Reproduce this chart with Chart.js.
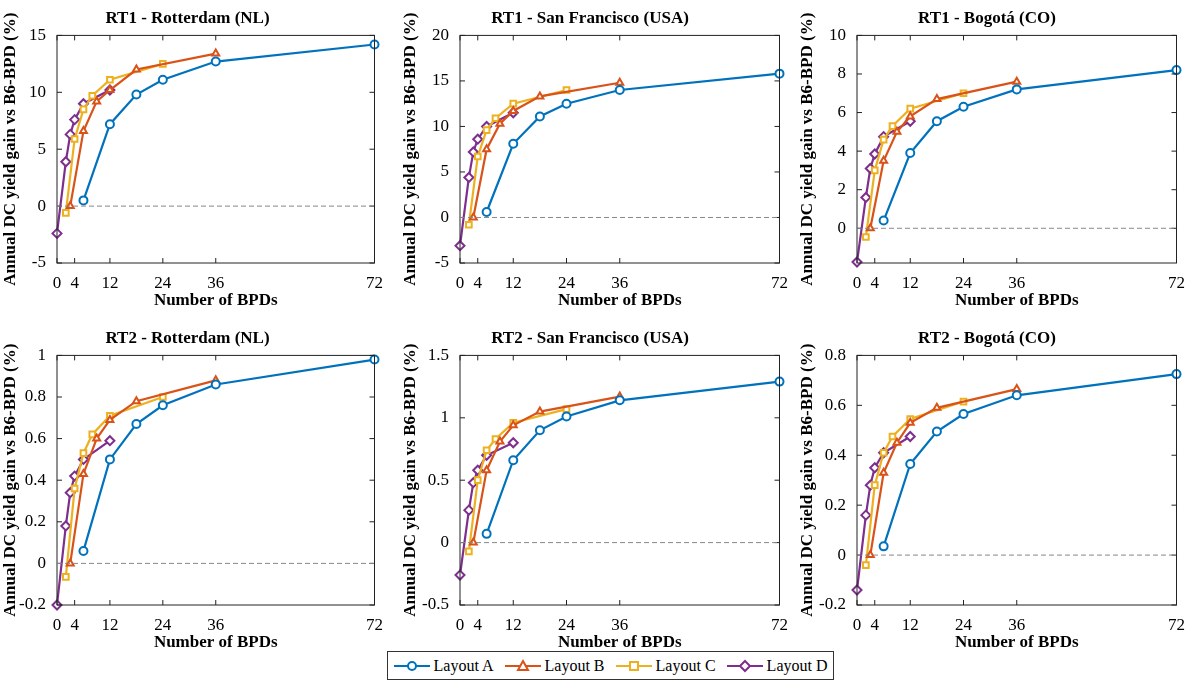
<!DOCTYPE html>
<html><head><meta charset="utf-8">
<script src="https://cdn.jsdelivr.net/npm/chart.js@4"></script>
<style>
body{margin:0;background:#fff;width:1192px;height:682px;position:relative;overflow:hidden;font-family:"Liberation Serif",serif}
.p{position:absolute}
#legend{position:absolute;left:387px;top:651px;width:447px;height:29px;border:1px solid #333;display:flex;align-items:center;justify-content:space-around;font-size:16px;box-sizing:border-box;background:#fff}
#legend span{display:flex;align-items:center;gap:4px}
</style></head><body>
<div class="p" style="left:0;top:0;width:385px;height:311px"><canvas id="c0"></canvas></div>
<div class="p" style="left:400px;top:0;width:390px;height:311px"><canvas id="c1"></canvas></div>
<div class="p" style="left:797px;top:0;width:390px;height:311px"><canvas id="c2"></canvas></div>
<div class="p" style="left:0;top:318px;width:385px;height:335px"><canvas id="c3"></canvas></div>
<div class="p" style="left:400px;top:318px;width:390px;height:335px"><canvas id="c4"></canvas></div>
<div class="p" style="left:797px;top:318px;width:390px;height:335px"><canvas id="c5"></canvas></div>
<div id="legend"></div>
<script>
// BPD counts per layout
var xA = [6, 12, 18, 24, 36, 72];
var xB = [3, 6, 9, 12, 18, 36];
var xC = [2, 4, 6, 8, 12, 24];
var xD = [0, 2, 3, 4, 6, 12];
var xTicks = [0, 4, 12, 24, 36, 72];

var titles = ['RT1 - Rotterdam (NL)', 'RT1 - San Francisco (USA)', 'RT1 - Bogotá (CO)',
              'RT2 - Rotterdam (NL)', 'RT2 - San Francisco (USA)', 'RT2 - Bogotá (CO)'];

// y values: [A, B, C, D] per panel
var rt1Rot = [[0.5, 7.2, 9.8, 11.1, 12.7, 14.2], [0, 6.6, 9.2, 10.2, 12.0, 13.4], [-0.6, 5.9, 8.5, 9.7, 11.1, 12.5], [-2.4, 3.9, 6.3, 7.6, 9.0, 10.2]];
var rt1SF = [[0.6, 8.1, 11.1, 12.5, 14.0, 15.8], [0, 7.5, 10.3, 11.7, 13.3, 14.8], [-0.8, 6.7, 9.6, 10.9, 12.5, 14.0], [-3.1, 4.4, 7.2, 8.6, 10.0, 11.5]];
var rt1Bog = [[0.4, 3.9, 5.55, 6.3, 7.2, 8.2], [0, 3.5, 5.0, 5.8, 6.7, 7.6], [-0.45, 3.0, 4.6, 5.3, 6.2, 7.0], [-1.75, 1.6, 3.1, 3.85, 4.75, 5.55]];
var rt2Rot = [[0.06, 0.5, 0.67, 0.76, 0.86, 0.98], [0, 0.43, 0.6, 0.69, 0.78, 0.88], [-0.065, 0.36, 0.53, 0.62, 0.71, 0.8], [-0.2, 0.18, 0.34, 0.42, 0.5, 0.59]];
var rt2SF = [[0.07, 0.66, 0.9, 1.01, 1.14, 1.29], [0, 0.58, 0.81, 0.94, 1.05, 1.17], [-0.07, 0.5, 0.74, 0.83, 0.96, 1.07], [-0.26, 0.26, 0.48, 0.58, 0.7, 0.8]];
var rt2Bog = [[0.035, 0.365, 0.495, 0.565, 0.64, 0.725], [0, 0.33, 0.45, 0.53, 0.59, 0.665], [-0.04, 0.28, 0.41, 0.475, 0.545, 0.615], [-0.14, 0.16, 0.28, 0.35, 0.41, 0.475]];
var panels = [rt1Rot, rt1SF, rt1Bog, rt2Rot, rt2SF, rt2Bog];

var yTicks = [[-5, 0, 5, 10, 15], [-5, 0, 5, 10, 15, 20], [0, 2, 4, 6, 8, 10],
              [-0.2, 0, 0.2, 0.4, 0.6, 0.8, 1], [-0.5, 0, 0.5, 1, 1.5], [-0.2, 0, 0.2, 0.4, 0.6, 0.8]];
var yMin = [-5, -5, -1.8, -0.2, -0.5, -0.2];
var yMax = [15, 20, 10, 1, 1.5, 0.8];

var names = ['Layout A', 'Layout B', 'Layout C', 'Layout D'];
var colors = ['#0072BD', '#D95319', '#EDB120', '#7E2F8E'];
var shapes = ['circle', 'triangle', 'rect', 'rectRot'];
var xs = [xA, xB, xC, xD];
var yLeft = [57, 60, 60, 57, 60, 60];

var boxPlugin = {
    id: 'box',
    afterDraw: function (chart) {
        var c = chart.ctx, a = chart.chartArea, sx = chart.scales.x, sy = chart.scales.y;
        c.save();
        c.strokeStyle = '#222'; c.lineWidth = 1;
        c.strokeRect(a.left, a.top, a.right - a.left, a.bottom - a.top);
        c.beginPath();
        sy.ticks.forEach(function (t) {
            var py = sy.getPixelForValue(t.value);
            c.moveTo(a.left, py); c.lineTo(a.left + 5, py);
            c.moveTo(a.right, py); c.lineTo(a.right - 5, py);
        });
        sx.ticks.forEach(function (t) {
            var px = sx.getPixelForValue(t.value);
            c.moveTo(px, a.bottom); c.lineTo(px, a.bottom - 5);
            c.moveTo(px, a.top); c.lineTo(px, a.top + 5);
        });
        c.stroke();
        c.setLineDash([5, 3]); c.strokeStyle = '#888';
        var z = sy.getPixelForValue(0);
        c.beginPath(); c.moveTo(a.left, z); c.lineTo(a.right, z); c.stroke();
        c.restore();
    }
};

panels.forEach(function (p, i) {
    var ds = p.map(function (ys, k) {
        return {
            label: names[k],
            data: xs[k].map(function (x, j) { return { x: x, y: ys[j] }; }),
            borderColor: colors[k], backgroundColor: '#fff',
            pointStyle: shapes[k], pointRadius: shapes[k] === 'rectRot' ? 4.5 : 4,
            pointBorderWidth: 2, borderWidth: 2.2, clip: false
        };
    });
    new Chart(document.getElementById('c' + i), {
        type: 'line',
        data: { datasets: ds },
        options: {
            responsive: true, maintainAspectRatio: false, animation: false,
            layout: { padding: { right: 10, top: 0, bottom: 0 } },
            plugins: {
                legend: { display: false }, tooltip: { enabled: false },
                title: { display: true, text: titles[i], color: '#000',
                    font: { family: 'Liberation Serif', size: 17, weight: 'bold' },
                    padding: { top: i < 3 ? 8 : 10, bottom: 7 } }
            },
            scales: {
                x: {
                    type: 'linear', min: 0, max: 72,
                    grid: { display: false }, border: { display: false },
                    afterBuildTicks: function (ax) { ax.ticks = xTicks.map(function (v) { return { value: v }; }); },
                    afterFit: function (ax) { ax.height = 48; },
                    ticks: { color: '#000', maxRotation: 0, padding: 2, font: { family: 'Liberation Serif', size: 17 } },
                    title: { display: true, text: 'Number of BPDs', color: '#000', padding: 0,
                        font: { family: 'Liberation Serif', size: 17, weight: 'bold' } }
                },
                y: {
                    min: yMin[i], max: yMax[i],
                    grid: { display: false }, border: { display: false },
                    afterBuildTicks: function (ax) { ax.ticks = yTicks[i].map(function (v) { return { value: v }; }); },
                    afterFit: function (ax) { ax.width = yLeft[i]; },
                    ticks: { color: '#000', padding: 3, font: { family: 'Liberation Serif', size: 17 },
                        callback: function (v) { return String(+v.toFixed(2)); } },
                    title: { display: true, text: 'Annual DC yield gain vs B6-BPD (%)', color: '#000', padding: 0,
                        font: { family: 'Liberation Serif', size: 17, weight: 'bold' } }
                }
            }
        },
        plugins: [boxPlugin]
    });
});

var svgs = [
    '<circle cx="18" cy="8" r="4" fill="#fff" stroke-width="2"/>',
    '<polygon points="18,3 23,12 13,12" fill="#fff" stroke-width="2"/>',
    '<rect x="14" y="4" width="8" height="8" fill="#fff" stroke-width="2"/>',
    '<polygon points="18,3 23,8 18,13 13,8" fill="#fff" stroke-width="2"/>'
];
document.getElementById('legend').innerHTML = names.map(function (n, k) {
    return '<span><svg width="36" height="16" stroke="' + colors[k] + '"><line x1="0" y1="8" x2="36" y2="8" stroke-width="2"/>' +
        svgs[k] + '</svg>' + n + '</span>';
}).join('');
</script>
</body></html>
